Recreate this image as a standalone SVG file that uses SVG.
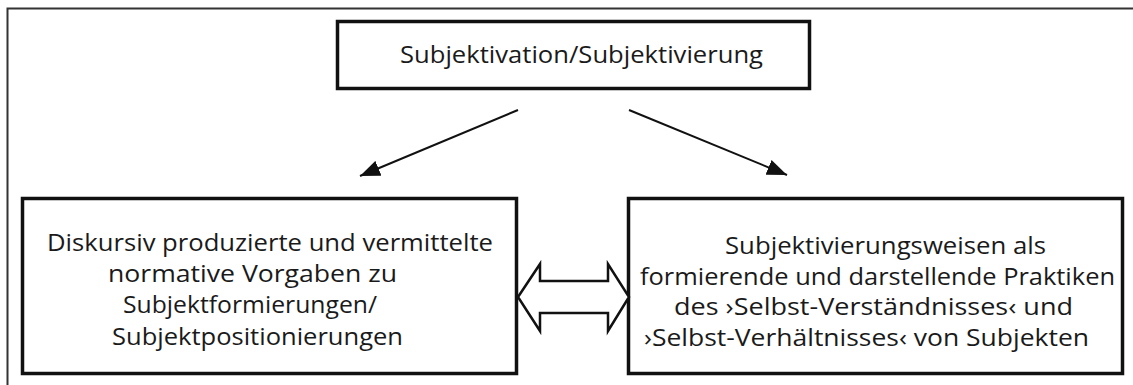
<svg xmlns="http://www.w3.org/2000/svg" width="1133" height="385" viewBox="0 0 1133 385">
<style>
.box{fill:#fff;stroke:#111;stroke-width:3.5}
.lbl{font-family:"Open Sans","Noto Sans","DejaVu Sans",sans-serif;font-size:23px;fill:#1a1a1a}
.big{font-size:24px}
.conn{stroke:#111;stroke-width:2;fill:none}
.frame{stroke:#333;stroke-width:2;fill:none}
</style>
<defs>
<marker id="ah" viewBox="0 0 20 16" refX="20" refY="8" markerWidth="20" markerHeight="16" markerUnits="userSpaceOnUse" orient="auto">
<path d="M0,0 L20,8 L0,16 Z" fill="#111"/>
</marker>
</defs>
<rect width="1133" height="385" fill="#fff"/>
<path class="frame" d="M7.5,386 V8.5 H1134"/>
<g id="top">
<rect class="box" x="337.5" y="21.5" width="472" height="67"/>
<text class="lbl big" x="400" y="63" textLength="363" lengthAdjust="spacingAndGlyphs">Subjektivation/Subjektivierung</text>
</g>
<g id="left">
<rect class="box" x="22.5" y="198.5" width="494" height="175"/>
<text class="lbl" x="47" y="251" textLength="446" lengthAdjust="spacingAndGlyphs">Diskursiv produzierte und vermittelte</text>
<text class="lbl" x="108" y="282" textLength="289" lengthAdjust="spacingAndGlyphs">normative Vorgaben zu</text>
<text class="lbl" x="123" y="313" textLength="254" lengthAdjust="spacingAndGlyphs">Subjektformierungen/</text>
<text class="lbl" x="112" y="345" textLength="291" lengthAdjust="spacingAndGlyphs">Subjektpositionierungen</text>
</g>
<g id="right">
<rect class="box" x="628.5" y="198.5" width="494" height="175"/>
<text class="lbl" x="725" y="254" textLength="321" lengthAdjust="spacingAndGlyphs">Subjektivierungsweisen als</text>
<text class="lbl" x="640" y="285" textLength="475" lengthAdjust="spacingAndGlyphs">formierende und darstellende Praktiken</text>
<text class="lbl" x="674" y="315" textLength="399" lengthAdjust="spacingAndGlyphs">des ›Selbst-Verständnisses‹ und</text>
<text class="lbl" x="644" y="346" textLength="445" lengthAdjust="spacingAndGlyphs">›Selbst-Verhältnisses‹ von Subjekten</text>
</g>
<g id="connectors">
<line class="conn" x1="518" y1="110" x2="360" y2="176" marker-end="url(#ah)"/>
<line class="conn" x1="629" y1="110" x2="787" y2="175" marker-end="url(#ah)"/>
<polygon points="518,297 540,264 540,281 608,281 608,264 629,297 608,331 608,313 540,313 540,331" fill="#fff" stroke="#111" stroke-width="2.5" stroke-linejoin="miter"/>
</g>
</svg>
